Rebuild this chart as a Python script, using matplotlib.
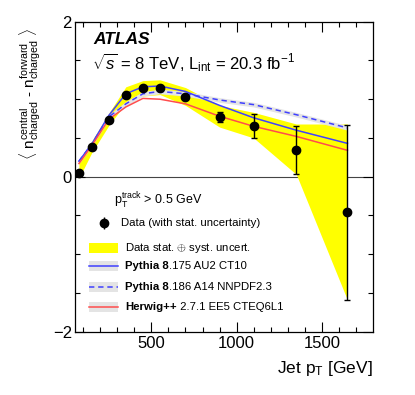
import matplotlib
matplotlib.use("Agg")
import matplotlib.pyplot as plt
from matplotlib.patches import Rectangle
from matplotlib.lines import Line2D
import numpy as np

plt.rcParams['font.family'] = ['Liberation Sans', 'DejaVu Sans']
plt.rcParams['mathtext.fontset'] = 'custom'
plt.rcParams['mathtext.rm'] = 'Liberation Sans'
plt.rcParams['mathtext.it'] = 'Liberation Sans:italic'
plt.rcParams['mathtext.bf'] = 'Liberation Sans:bold'

# ---- data ----
jet_pt = [75, 150, 250, 350, 450, 550, 700, 900, 1100, 1350, 1650]
data_val = [0.05, 0.38, 0.735, 1.05, 1.14, 1.15, 1.03, 0.77, 0.65, 0.345, -0.46]
data_stat = [0.03, 0.02, 0.02, 0.02, 0.02, 0.02, 0.03, 0.06, 0.155, 0.31, 1.13]
band_up = [0.20, 0.46, 0.82, 1.16, 1.24, 1.25, 1.15, 0.92, 0.83, 0.68, 0.68]
band_lo = [-0.02, 0.31, 0.66, 0.95, 1.04, 1.06, 0.92, 0.64, 0.50, 0.03, -1.59]
py_au2 = [0.20, 0.42, 0.79, 1.07, 1.16, 1.17, 1.10, 0.92, 0.76, 0.60, 0.43]
py_a14 = [0.20, 0.42, 0.77, 0.94, 1.07, 1.10, 1.07, 0.99, 0.93, 0.80, 0.63]
herwig = [0.17, 0.40, 0.74, 0.90, 1.01, 1.00, 0.94, 0.78, 0.65, 0.52, 0.34]

leg_labels_bold = ['Pythia 8', 'Pythia 8', 'Herwig++']
leg_labels_rest = ['.175 AU2 CT10', '.186 A14 NNPDF2.3', ' 2.7.1 EE5 CTEQ6L1']

W, H = 415, 395
fig = plt.figure(figsize=(W / 100, H / 100), dpi=100)
L, R, T, B = 74.7, 373.0, 21.7, 331.7
ax = fig.add_axes([L / W, 1 - B / H, (R - L) / W, (B - T) / H])

def axf(px, py):
    return ((px - L) / (R - L), (B - py) / (B - T))

blue = '#4040ff'
red = '#ff4d4d'
yellow = '#ffff00'
gray = '#e4e4e4'

ax.axhline(0, color='#444444', lw=0.8, zorder=0.5)
ax.fill_between(jet_pt, band_lo, band_up, color=yellow, lw=0, zorder=1)
x = np.array(jet_pt)
ax.fill_between(x, np.array(py_a14) - 0.03, np.array(py_a14) + 0.03, color=gray, lw=0, zorder=1.5)
ax.plot(x, py_au2, color=blue, lw=1.1, zorder=2)
ax.plot(x, py_a14, color=blue, lw=1.1, ls=(0, (3.5, 2.5)), zorder=2)
ax.plot(x, herwig, color=red, lw=1.1, zorder=2)
ax.errorbar(x, data_val, yerr=data_stat, fmt='o', color='black', ms=6, elinewidth=1.0,
            capsize=2.5, capthick=1.0, zorder=3)

ax.set_xlim(50, 1800)
ax.set_ylim(-2, 2)
ax.set_xticks([500, 1000, 1500])
ax.set_xticks(np.arange(100, 1800, 100), minor=True)
ax.set_yticks([-2, 0, 2])
ax.set_yticks(np.arange(-2, 2.01, 0.5), minor=True)
ax.tick_params(which='both', direction='in', top=True, right=True, labelsize=12, width=0.8)
ax.tick_params(which='major', length=7.2)
ax.tick_params(which='minor', length=3.6)
ax.tick_params(axis='x', pad=3)
ax.tick_params(axis='y', pad=2)
for s in ax.spines.values():
    s.set_linewidth(0.9)

ax.set_xlabel(r'Jet p$_{\mathrm{T}}$ [GeV]', fontsize=12.5, loc='right', labelpad=6)
ax.set_ylabel(r'$\langle$ n$^{\mathrm{central}}_{\mathrm{charged}}$ - n$^{\mathrm{forward}}_{\mathrm{charged}}$ $\rangle$',
              fontsize=11, loc='top', labelpad=8)
ax.yaxis.label.set_y(0.98)

ax.text(*axf(93, 39), 'ATLAS', transform=ax.transAxes, fontsize=12.5,
        fontweight='bold', fontstyle='italic', va='center', ha='left')
ax.text(*axf(92, 63), r'$\sqrt{s}$ = 8 TeV, L$_{\mathrm{int}}$ = 20.3 fb$^{-1}$',
        transform=ax.transAxes, fontsize=12, va='center', ha='left')
ax.text(*axf(114, 201), r'p$_{\mathrm{T}}^{\mathrm{track}}$ > 0.5 GeV', transform=ax.transAxes,
        fontsize=9, va='center', ha='left')

fs = 8.2
# legend: data
mx, my = axf(104, 223)
ax.errorbar([mx], [my], yerr=[[0.018], [0.018]], fmt='o', color='black', ms=6,
            elinewidth=1.0, transform=ax.transAxes, clip_on=False, zorder=5)
ax.text(*axf(121, 223), 'Data (with stat. uncertainty)', transform=ax.transAxes,
        fontsize=fs, va='center', ha='left')
# yellow
x0, y0 = axf(89, 253)
x1, y1 = axf(118, 243)
ax.add_patch(Rectangle((x0, y0), x1 - x0, y1 - y0, transform=ax.transAxes,
                       facecolor=yellow, edgecolor='none', zorder=5))
ax.text(*axf(125, 248), r'Data stat. $\oplus$ syst. uncert.', transform=ax.transAxes,
        fontsize=fs, va='center', ha='left')

rows = [266, 286.7, 306.7]
styles = [dict(color=blue, ls='-'), dict(color=blue, ls=(0, (3.5, 2.5))), dict(color=red, ls='-')]
for py, st, lb, lr in zip(rows, styles, leg_labels_bold, leg_labels_rest):
    x0, y0 = axf(89, py + 5)
    x1, y1 = axf(118, py - 5)
    ax.add_patch(Rectangle((x0, y0), x1 - x0, y1 - y0, transform=ax.transAxes,
                           facecolor=gray, edgecolor='none', zorder=5))
    yy = axf(0, py)[1]
    ax.add_line(Line2D([x0, x1], [yy, yy], transform=ax.transAxes, lw=1.1, zorder=6, **st))
    t1 = ax.text(*axf(125, py), lb, transform=ax.transAxes, fontsize=fs, fontweight='bold',
                 va='center', ha='left')
    ax.annotate(lr, xy=(1, 0), xycoords=t1, fontsize=fs, va='bottom', ha='left')

fig.savefig('out.png', dpi=100)
